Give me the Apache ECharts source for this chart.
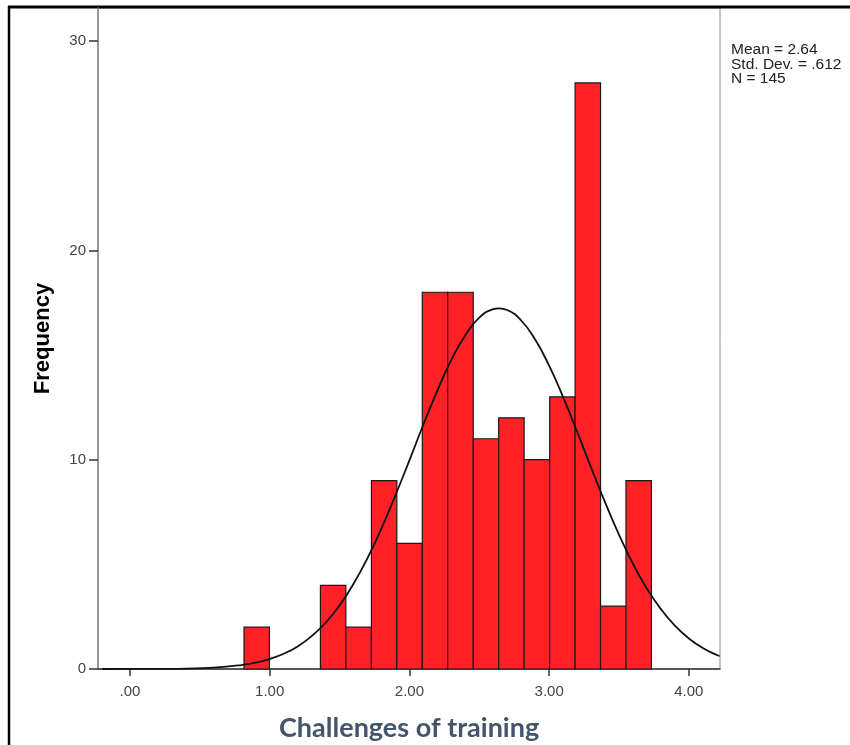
<!DOCTYPE html>
<html>
<head>
<meta charset="utf-8">
<title>Challenges of training</title>
<script src="https://cdn.jsdelivr.net/npm/echarts@6/dist/echarts.min.js"></script>
<style>
  html, body { margin: 0; padding: 0; background: #fff; }
  #chart { width: 850px; height: 745px; }
</style>
</head>
<body>
<div id="chart"></div>
<script>
// histogram bins (edges) and frequencies
const binEdges = [0.816, 0.998, 1.181, 1.363, 1.545, 1.728, 1.910, 2.092, 2.274,
  2.457, 2.639, 2.821, 3.004, 3.186, 3.368, 3.550, 3.732];
const frequencies = [2, 0, 0, 4, 2, 9, 6, 18, 18, 11, 12, 10, 13, 28, 3, 9];

// fitted normal curve
const curveX = [-0.2, 0.0, 0.2, 0.4, 0.6, 0.8, 0.9, 1.0, 1.1, 1.2, 1.3, 1.4, 1.5, 1.6,
  1.7, 1.8, 1.9, 2.0, 2.1, 2.2, 2.3, 2.4, 2.5, 2.6, 2.64, 2.7, 2.8, 2.9, 3.0, 3.1,
  3.2, 3.3, 3.4, 3.5, 3.6, 3.7, 3.8, 3.9, 4.0, 4.1, 4.2, 4.22];
const curveY = [0.0, 0.002, 0.006, 0.021, 0.066, 0.19, 0.30, 0.48, 0.73, 1.08, 1.57,
  2.21, 3.04, 4.07, 5.30, 6.72, 8.30, 9.97, 11.68, 13.30, 14.77, 15.95, 16.79, 17.19,
  17.23, 17.15, 16.65, 15.74, 14.49, 12.99, 11.34, 9.63, 7.97, 6.42, 5.03, 3.84, 2.86,
  2.07, 1.46, 1.00, 0.67, 0.62];

const xTicks = [0, 1, 2, 3, 4];
const yTicks = [0, 10, 20, 30];
const statsLines = ['Mean = 2.64', 'Std. Dev. = .612', 'N = 145'];

const bars = [];
frequencies.forEach((f, i) => {
  if (f > 0) bars.push([binEdges[i], binEdges[i + 1], f]);
});
const curve = curveX.map((x, i) => [x, curveY[i]]);

const chart = echarts.init(document.getElementById('chart'));

chart.setOption({
  animation: false,
  backgroundColor: '#fff',
  title: {
    text: 'Challenges of training',
    left: 274,
    top: 710,
    textStyle: {
      fontFamily: 'Lato',
      fontWeight: 'bold',
      fontSize: 27,
      color: '#44546a',
    },
  },
  grid: {
    left: 98,
    right: 130,
    top: 8,
    bottom: 76,
    show: true,
    borderColor: '#8a8a8a',
    borderWidth: 1,
  },
  xAxis: {
    type: 'value',
    min: -0.229,
    max: 4.223,
    axisLine: { show: true, onZero: false, lineStyle: { color: '#333', width: 1.5 } },
    axisTick: {
      show: true,
      customValues: xTicks,
      length: 7,
      lineStyle: { color: '#333', width: 1.5 },
    },
    axisLabel: {
      customValues: xTicks,
      margin: 15,
      color: '#444',
      fontFamily: 'Liberation Sans',
      fontSize: 15,
      formatter: (v) => (v === 0 ? '.00' : v.toFixed(2)),
    },
    splitLine: { show: false },
  },
  yAxis: {
    type: 'value',
    min: 0,
    max: 31.58,
    name: 'Frequency',
    nameLocation: 'middle',
    nameGap: 44,
    nameTextStyle: {
      fontFamily: 'Liberation Sans',
      fontWeight: 'bold',
      fontSize: 22,
      color: '#000',
    },
    axisLine: { show: true, onZero: false, lineStyle: { color: '#8a8a8a', width: 1.5 } },
    axisTick: {
      show: true,
      customValues: yTicks,
      length: 9,
      lineStyle: { color: '#333', width: 1.5 },
    },
    axisLabel: {
      customValues: yTicks,
      margin: 12,
      color: '#444',
      fontFamily: 'Liberation Sans',
      fontSize: 15,
    },
    splitLine: { show: false },
  },
  graphic: [
    {
      type: 'text',
      left: 731,
      top: 42,
      style: {
        text: statsLines.join('\n'),
        font: '15.5px "Liberation Sans"',
        lineHeight: 14.5,
        fill: '#222',
      },
    },
    {
      type: 'line',
      shape: { x1: 9, y1: 6, x2: 9, y2: 745 },
      style: { stroke: '#000', lineWidth: 2.5 },
    },
    {
      type: 'line',
      shape: { x1: 8, y1: 7, x2: 850, y2: 7 },
      style: { stroke: '#000', lineWidth: 3 },
    },
  ],
  series: [
    {
      type: 'custom',
      data: bars,
      encode: { x: [0, 1], y: 2 },
      renderItem(params, api) {
        const p0 = api.coord([api.value(0), api.value(2)]);
        const p1 = api.coord([api.value(1), 0]);
        return {
          type: 'rect',
          shape: { x: p0[0], y: p0[1], width: p1[0] - p0[0], height: p1[1] - p0[1] },
          style: { fill: '#ff2126', stroke: '#1a1a1a', lineWidth: 1.2 },
        };
      },
      z: 2,
    },
    {
      type: 'line',
      data: curve,
      smooth: true,
      showSymbol: false,
      lineStyle: { color: '#111', width: 1.8 },
      z: 3,
    },
  ],
});
</script>
</body>
</html>
